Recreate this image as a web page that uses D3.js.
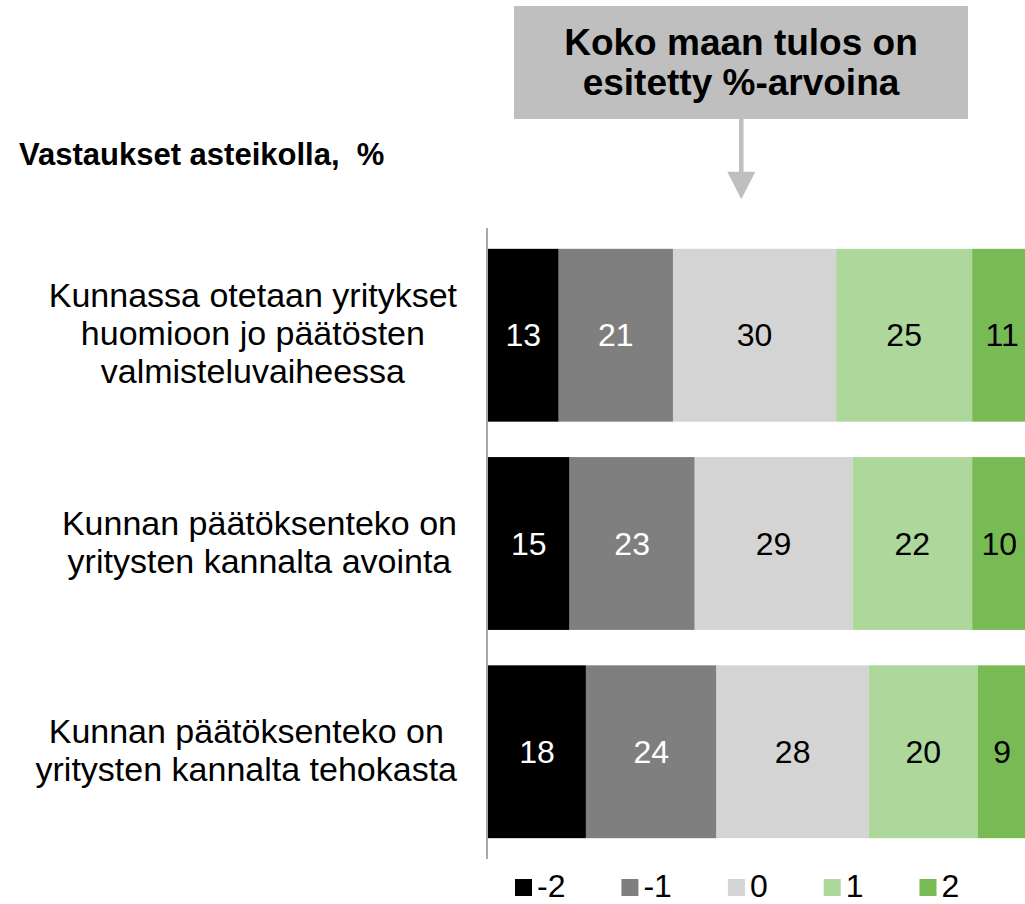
<!DOCTYPE html>
<html>
<head>
<meta charset="utf-8">
<script src="https://cdn.jsdelivr.net/npm/d3@7"></script>
<style>
  body { margin: 0; background: #fff; }
  svg { display: block; font-family: "Liberation Sans", Arial, sans-serif; }
</style>
</head>
<body>
<svg id="chart" width="1025" height="904"></svg>
<script>
// statements (each label is split into its wrapped lines)
let questions = [
  ["Kunnassa otetaan yritykset", "huomioon jo päätösten", "valmisteluvaiheessa"],
  ["Kunnan päätöksenteko on", "yritysten kannalta avointa"],
  ["Kunnan päätöksenteko on", "yritysten kannalta tehokasta"]
];
let scaleKeys = ["-2", "-1", "0", "1", "2"];
let answers = [
  [13, 21, 30, 25, 11],
  [15, 23, 29, 22, 10],
  [18, 24, 28, 20, 9]
];
let keyColors = ["#000000", "#7f7f7f", "#d4d4d4", "#aed79c", "#78bb55"];
let labelColors = ["#ffffff", "#ffffff", "#000000", "#000000", "#000000"];

let titleText = "Vastaukset asteikolla,  %";
let noteLines = ["Koko maan tulos on", "esitetty %-arvoina"];

let svg = d3.select("#chart");

// scales
let xScale = d3.scaleLinear()
  .domain([0, 100])
  .range([488, 1032]);   // runs past the right edge, as in the original

let yScale = d3.scaleBand()
  .domain(d3.range(questions.length))
  .range([228, 859])
  .paddingInner(0.17)
  .paddingOuter(0.1);

// stack the rows
let rows = answers.map((vals, i) => {
  let acc = 0;
  return vals.map((v, k) => {
    let seg = { row: i, key: k, value: v, x0: acc, x1: acc + v };
    acc += v;
    return seg;
  });
});

// bars
let bars = svg.append("g").attr("class", "bars");
bars.selectAll("g")
  .data(rows)
  .join("g")
  .selectAll("rect")
  .data(d => d)
  .join("rect")
  .attr("x", d => xScale(d.x0))
  .attr("y", d => yScale(d.row))
  .attr("width", d => xScale(d.x1) - xScale(d.x0))
  .attr("height", yScale.bandwidth())
  .attr("fill", d => keyColors[d.key]);

// value labels
bars.selectAll("g")
  .selectAll("text")
  .data(d => d)
  .join("text")
  .attr("x", d => (xScale(d.x0) + xScale(d.x1)) / 2)
  .attr("y", d => yScale(d.row) + yScale.bandwidth() / 2)
  .attr("dy", "0.35em")
  .attr("text-anchor", "middle")
  .style("font-size", "32px")
  .attr("fill", d => labelColors[d.key])
  .text(d => d.value);

// vertical axis line
svg.append("line")
  .attr("x1", 487).attr("x2", 487)
  .attr("y1", yScale.range()[0]).attr("y2", yScale.range()[1])
  .attr("stroke", "#8c8c8c")
  .attr("stroke-width", 1.5);

// category labels: block right-aligned, lines centered inside the block
let lineH = 38;
questions.forEach((lines, i) => {
  let g = svg.append("g");
  let texts = g.selectAll("text")
    .data(lines)
    .join("text")
    .style("font-size", "34px")
    .attr("fill", "#000")
    .attr("text-anchor", "middle")
    .text(d => d);
  let maxW = d3.max(texts.nodes(), n => n.getComputedTextLength());
  let cy = yScale(i) + yScale.bandwidth() / 2;
  texts
    .attr("x", 457 - maxW / 2)
    .attr("y", (d, j) => cy + (j - (lines.length - 1) / 2) * lineH + 10);
});

// chart title
svg.append("text")
  .attr("x", 19)
  .attr("y", 165)
  .style("font-size", "31px")
  .style("font-weight", "bold")
  .attr("fill", "#000")
  .attr("xml:space", "preserve")
  .style("white-space", "pre")
  .text(titleText);

// note box with arrow
svg.append("rect")
  .attr("x", 514).attr("y", 6)
  .attr("width", 454).attr("height", 113)
  .attr("fill", "#bfbfbf");

svg.selectAll(".note")
  .data(noteLines)
  .join("text")
  .attr("class", "note")
  .attr("x", 741)
  .attr("y", (d, i) => 55 + i * 40)
  .attr("text-anchor", "middle")
  .style("font-size", "37px")
  .style("font-weight", "bold")
  .attr("fill", "#000")
  .text(d => d);

svg.append("line")
  .attr("x1", 741.3).attr("x2", 741.3)
  .attr("y1", 119).attr("y2", 173)
  .attr("stroke", "#bfbfbf")
  .attr("stroke-width", 4.5);

svg.append("path")
  .attr("d", "M727.3,171.7 L755.3,171.7 L741.3,199.3 Z")
  .attr("fill", "#bfbfbf");

// legend
let legend = svg.append("g").attr("class", "legend");
let lx = 515;
scaleKeys.forEach((k, i) => {
  legend.append("rect")
    .attr("x", lx).attr("y", 879)
    .attr("width", 17).attr("height", 17)
    .attr("fill", keyColors[i]);
  let t = legend.append("text")
    .attr("x", lx + 22)
    .attr("y", 897)
    .style("font-size", "32px")
    .attr("fill", "#000")
    .text(k);
  lx += 22 + t.node().getComputedTextLength() + 56;
});
</script>
</body>
</html>
